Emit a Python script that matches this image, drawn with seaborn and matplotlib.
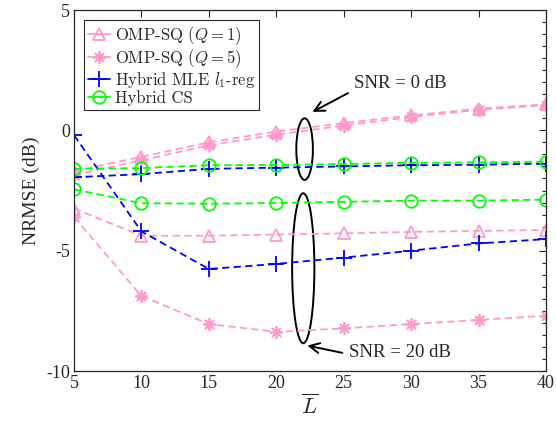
import matplotlib
matplotlib.use("Agg")
import matplotlib.pyplot as plt
import seaborn as sns
import numpy as np
import pandas as pd
from matplotlib.lines import Line2D
from matplotlib.patches import Ellipse
from matplotlib.ticker import MultipleLocator

# ---- data ----
L = [5, 10, 15, 20, 25, 30, 35, 40]
omp1_0 = [-1.7, -1.1, -0.5, -0.05, 0.3, 0.62, 0.9, 1.08]
omp5_0 = [-1.85, -1.25, -0.62, -0.18, 0.2, 0.55, 0.85, 1.05]
mle_0 = [-1.95, -1.82, -1.6, -1.55, -1.5, -1.45, -1.43, -1.38]
cs_0 = [-1.6, -1.57, -1.45, -1.44, -1.4, -1.35, -1.33, -1.3]
omp1_20 = [-3.25, -4.38, -4.38, -4.33, -4.28, -4.22, -4.18, -4.14]
omp5_20 = [-3.6, -6.88, -8.05, -8.37, -8.23, -8.05, -7.88, -7.7]
mle_20 = [-0.2, -4.2, -5.76, -5.55, -5.29, -5.0, -4.7, -4.52]
cs_20 = [-2.45, -3.03, -3.05, -3.02, -2.97, -2.92, -2.92, -2.88]

labels = [r"OMP-SQ ($Q=1$)", r"OMP-SQ ($Q=5$)", r"Hybrid MLE $l_1$-reg", "Hybrid CS"]
xticks = [5, 10, 15, 20, 25, 30, 35, 40]
yticks = [-10, -5, 0, 5]

sns.set_theme(style="white")
plt.rcParams["font.family"] = ["Liberation Serif", "DejaVu Serif"]
plt.rcParams["mathtext.fontset"] = "cm"
plt.rcParams["axes.unicode_minus"] = False

pink = "#FF99CC"
blue = "#0000FF"
green = "#00FF00"
star = (8, 2, 0)

series = [
    (labels[0], omp1_0, omp1_20, pink, "^", 9),
    (labels[1], omp5_0, omp5_20, pink, star, 9),
    (labels[2], mle_0, mle_20, blue, "+", 11),
    (labels[3], cs_0, cs_20, green, "o", 9),
]

rows = []
for name, y0, y20, *_ in series:
    for xv, yv in zip(L, y0):
        rows.append(dict(L=xv, v=yv, method=name, snr=0))
    for xv, yv in zip(L, y20):
        rows.append(dict(L=xv, v=yv, method=name, snr=20))
df = pd.DataFrame(rows)

fig = plt.figure(figsize=(5.56, 4.29), dpi=100)
ax = fig.add_axes([74 / 556, 58 / 429, 472 / 556, 361 / 429])

dash = (0, (4, 2.4))
for name, y0, y20, col, mk, ms in series:
    for snr in (0, 20):
        sub = df[(df.method == name) & (df.snr == snr)]
        sns.lineplot(data=sub, x="L", y="v", ax=ax, color=col, marker=mk,
                     markersize=ms, markerfacecolor="none", markeredgecolor=col,
                     markeredgewidth=1.3, linewidth=1.3, linestyle=dash,
                     estimator=None, sort=False, legend=False)

ax.set_xlim(5, 40)
ax.set_ylim(-10, 5)
ax.set_xticks(xticks)
ax.set_yticks(yticks)
ax.set_xticklabels([str(t) for t in xticks])
ax.set_yticklabels([str(t) for t in yticks])
ax.yaxis.set_minor_locator(MultipleLocator(0.5))
ax.tick_params(which="both", direction="in", top=True, right=True,
               labelsize=13, colors="#262626", pad=3)
ax.tick_params(which="major", length=5, width=0.8)
ax.tick_params(which="minor", length=3, width=0.8)
for s in ax.spines.values():
    s.set_color("#262626")
    s.set_linewidth(0.9)
    s.set_visible(True)

ax.set_xlabel(r"$\overline{L}$", fontsize=16, labelpad=2)
ax.set_ylabel("NRMSE (dB)", fontsize=14, labelpad=4)

# ellipses and annotations
ax.add_patch(Ellipse((22.1, -0.78), 1.23, 2.56, fill=False, edgecolor="black", linewidth=1.4))
ax.add_patch(Ellipse((22.0, -5.73), 1.65, 6.23, fill=False, edgecolor="black", linewidth=1.4))
ax.annotate("", xy=(22.5, 0.71), xytext=(25.5, 1.6),
            arrowprops=dict(arrowstyle="->,head_length=0.6,head_width=0.3", lw=1.4, color="black"))
ax.annotate("", xy=(22.1, -8.92), xytext=(25.1, -9.27),
            arrowprops=dict(arrowstyle="->,head_length=0.6,head_width=0.3", lw=1.4, color="black"))
ax.text(25.76, 1.95, "SNR = 0 dB", fontsize=13.5, va="center", ha="left")
ax.text(25.4, -9.25, "SNR = 20 dB", fontsize=13.5, va="center", ha="left")

handles = []
for name, y0, y20, col, mk, ms in series:
    handles.append(Line2D([], [], color=col, marker=mk, markersize=ms,
                          markerfacecolor="none", markeredgecolor=col,
                          markeredgewidth=1.3, linewidth=1.3, linestyle="-"))
leg = ax.legend(handles, labels, loc="upper left", bbox_to_anchor=(0.021, 0.972),
                handlelength=1.3, handletextpad=0.3, labelspacing=0.0,
                borderpad=0.25, borderaxespad=0.0, fancybox=False, framealpha=1,
                edgecolor="#262626", prop={"family": "cmr10", "size": 12})
leg.get_frame().set_linewidth(0.8)

fig.savefig("out.png", dpi=100, facecolor="white")
